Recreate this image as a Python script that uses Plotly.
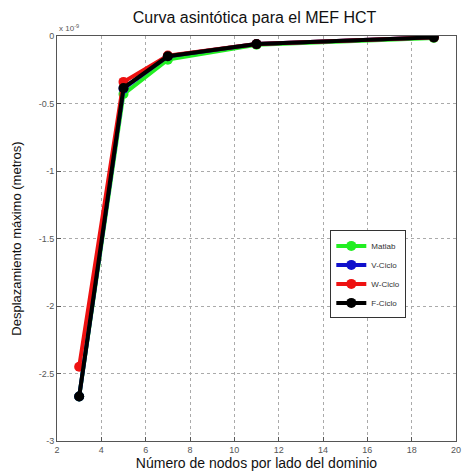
import plotly.graph_objects as go

nodos = [3, 5, 7, 11, 19]
matlab = [-2.67, -0.43, -0.175, -0.065, -0.015]
v_ciclo = [-2.67, -0.39, -0.15, -0.06, -0.01]
w_ciclo = [-2.45, -0.34, -0.145, -0.06, -0.01]
f_ciclo = [-2.67, -0.385, -0.15, -0.06, -0.01]

series = [
    ("Matlab", matlab, "#22ee22"),
    ("V-Ciclo", v_ciclo, "#1010cc"),
    ("W-Ciclo", w_ciclo, "#ee1111"),
    ("F-Ciclo", f_ciclo, "#000000"),
]

x_ticks = [2, 4, 6, 8, 10, 12, 14, 16, 18, 20]
y_ticks = [0, -0.5, -1, -1.5, -2, -2.5, -3]
y_labels = ["0", "-0.5", "-1", "-1.5", "-2", "-2.5", "-3"]

fig = go.Figure()
for name, vals, col in series:
    fig.add_trace(go.Scatter(
        x=nodos, y=vals, name=name, mode="lines+markers",
        line=dict(color=col, width=4),
        marker=dict(color=col, size=10),
    ))

fig.update_layout(
    width=467, height=475,
    margin=dict(l=57, r=6, t=36, b=34),
    paper_bgcolor="white", plot_bgcolor="white",
    font=dict(family="Liberation Sans, Arial, sans-serif", color="#222"),
    title=dict(text="Curva asintótica para el MEF HCT", x=0.545, xanchor="center",
               y=0.975, yanchor="top", font=dict(size=16, color="#111")),
    showlegend=True,
    legend=dict(x=0.685, y=0.52, xanchor="left", yanchor="top",
                bgcolor="white", bordercolor="#333", borderwidth=1,
                font=dict(size=8, color="#333"), itemwidth=30,
                tracegroupgap=0),
)
fig.update_xaxes(
    range=[2, 20], tickvals=x_ticks, ticktext=[str(t) for t in x_ticks],
    showgrid=True, gridcolor="#aaa", griddash="dot", gridwidth=1,
    showline=True, linecolor="#555", linewidth=1, mirror=True,
    ticks="inside", ticklen=4, tickcolor="#555",
    tickfont=dict(size=9, color="#555"), zeroline=False,
    title=dict(text="Número de nodos por lado del dominio", font=dict(size=14, color="#111"), standoff=4),
)
fig.update_yaxes(
    range=[-3, 0], tickvals=y_ticks, ticktext=y_labels,
    showgrid=True, gridcolor="#aaa", griddash="dot", gridwidth=1,
    showline=True, linecolor="#555", linewidth=1, mirror=True,
    ticks="inside", ticklen=4, tickcolor="#555",
    tickfont=dict(size=9, color="#555"), zeroline=False,
    title=dict(text="Desplazamiento máximo (metros)", font=dict(size=13, color="#111"), standoff=14),
)
fig.add_annotation(
    text="x 10<sup>-9</sup>", xref="paper", yref="paper", x=0.0, y=1.0,
    xanchor="left", yanchor="bottom", showarrow=False,
    font=dict(size=8, color="#555"), yshift=1,
)
fig.write_html("out.html")
